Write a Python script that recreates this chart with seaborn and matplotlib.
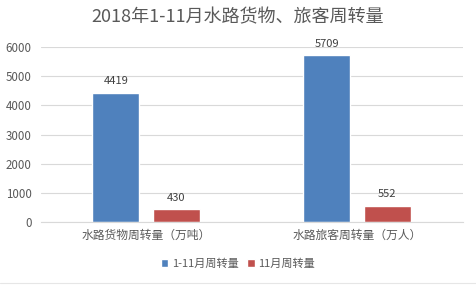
import matplotlib
matplotlib.use("Agg")
import matplotlib.pyplot as plt
import seaborn as sns
import pandas as pd
from matplotlib.lines import Line2D

title = "2018年1-11月水路货物、旅客周转量"
categories = ["水路货物周转量（万吨）", "水路旅客周转量（万人）"]
series_names = ["1-11月周转量", "11月周转量"]
values_ytd = [4419, 5709]
values_nov = [430, 552]
colors = ["#4F81BD", "#C0504D"]
yticks = [0, 1000, 2000, 3000, 4000, 5000, 6000]

sns.set_theme(style="white")
plt.rcParams["font.family"] = ["Noto Sans CJK SC", "DejaVu Sans"]

df = pd.DataFrame({
    "category": categories * 2,
    "series": [series_names[0]] * 2 + [series_names[1]] * 2,
    "value": values_ytd + values_nov,
})

fig = plt.figure(figsize=(4.76, 2.86), dpi=100)
ax = fig.add_axes([40.5 / 476, 64 / 286, 422 / 476, 175 / 286])

sns.barplot(data=df, x="category", y="value", hue="series",
            hue_order=series_names, order=categories,
            palette=colors, width=0.573, gap=0.22, ax=ax,
            saturation=1, legend=True, errorbar=None)

ax.set_xlim(-0.5, 1.5)
ax.set_ylim(0, 6000)
ax.set_yticks(yticks)
ax.set_yticklabels([str(t) for t in yticks])
ax.set_xlabel("")
ax.set_ylabel("")
ax.yaxis.grid(True, color="#D9D9D9", linewidth=0.8)
ax.set_axisbelow(True)
for s in ["top", "right", "left"]:
    ax.spines[s].set_visible(False)
ax.spines["bottom"].set_color("#D9D9D9")
ax.spines["bottom"].set_linewidth(0.8)
ax.tick_params(axis="both", length=0, colors="#595959")
ax.tick_params(axis="y", labelsize=8.3, pad=6.5)
ax.tick_params(axis="x", labelsize=8.5, pad=5)

for cont in ax.containers:
    ax.bar_label(cont, fmt="%d", padding=5, fontsize=8, color="#404040")

handles, labels = ax.get_legend_handles_labels()
ax.get_legend().remove()
fig.legend(handles, labels, loc="center", bbox_to_anchor=(0.5, 1 - 264 / 286),
           ncol=2, frameon=False, fontsize=8, handlelength=0.7, handleheight=0.7,
           handletextpad=0.3, columnspacing=0.8, labelcolor="#595959")

fig.text(0.5, 1 - 17 / 286, title, ha="center", va="center",
         fontsize=13, color="#595959")

fig.add_artist(Line2D([0, 1], [1 - 283 / 286] * 2, color="#E6E6E6", linewidth=0.8))

fig.savefig("out.png", dpi=100, facecolor="white")
